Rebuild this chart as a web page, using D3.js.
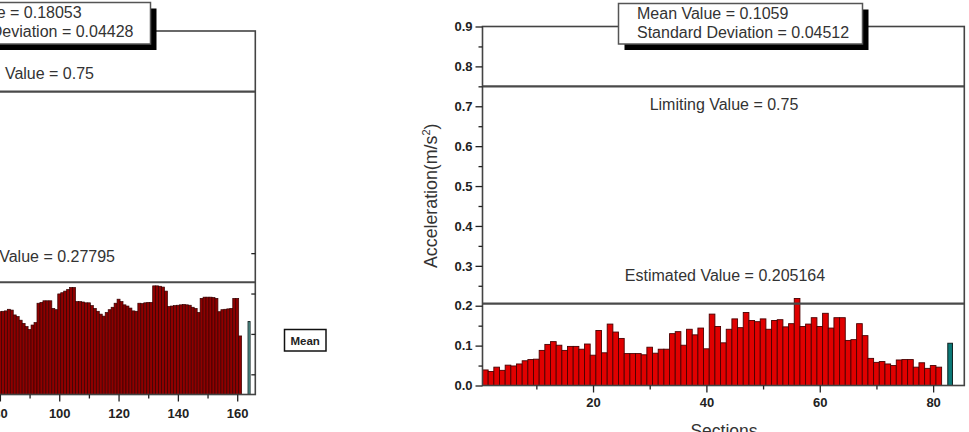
<!DOCTYPE html>
<html><head><meta charset="utf-8">
<script src="https://cdn.jsdelivr.net/npm/d3@7"></script>
<style>
html,body{margin:0;padding:0;background:#fff;overflow:hidden}
svg{display:block}
text{font-family:"Liberation Sans",Arial,Helvetica,sans-serif}
</style></head><body>
<svg id="chart" width="969" height="432"></svg>
<script>
// ---------------- DATA ----------------
// Left chart (only the visible sections 80..161 are read from the picture)
const leftFirstSection = 80;
const leftValues = [
  0.205,0.206,0.207,0.211,0.209,0.197,0.193,0.184,0.176,0.168,
  0.161,0.172,0.178,0.226,0.228,0.232,0.232,0.232,0.213,0.210,
  0.249,0.252,0.256,0.260,0.265,0.265,0.230,0.230,0.229,0.227,
  0.227,0.220,0.213,0.206,0.199,0.194,0.203,0.210,0.216,0.226,
  0.236,0.230,0.222,0.219,0.214,0.207,0.206,0.226,0.225,0.227,
  0.228,0.228,0.269,0.269,0.268,0.266,0.256,0.218,0.219,0.220,
  0.221,0.222,0.223,0.222,0.221,0.216,0.213,0.203,0.238,0.241,
  0.241,0.241,0.240,0.238,0.205,0.210,0.211,0.212,0.213,0.238,
  0.238,0.145
];
const leftMeanSection = 164;
const leftMean = 0.18053;
const leftStd = 0.04428;
const leftLimit = 0.75;
const leftEstimated = 0.27795;

// Right chart: sections 1..81
const rightFirstSection = 1;
const rightValues = [
  0.039,0.035,0.046,0.038,0.051,0.049,0.054,0.062,0.065,0.066,
  0.088,0.103,0.110,0.101,0.088,0.098,0.098,0.091,0.104,0.076,
  0.138,0.082,0.154,0.134,0.118,0.080,0.080,0.080,0.077,0.096,
  0.081,0.091,0.091,0.130,0.135,0.101,0.141,0.127,0.144,0.092,
  0.179,0.148,0.107,0.141,0.167,0.145,0.183,0.163,0.160,0.167,
  0.141,0.163,0.165,0.147,0.155,0.218,0.148,0.154,0.170,0.148,
  0.181,0.144,0.170,0.170,0.113,0.115,0.155,0.125,0.068,0.058,
  0.060,0.054,0.050,0.064,0.065,0.065,0.046,0.057,0.043,0.050,
  0.046
];
const rightMeanSection = 83;
const rightMean = 0.1059;
const rightStd = 0.04512;
const rightLimit = 0.75;
const rightEstimated = 0.205164;

const yMajorTicks = [0,0.1,0.2,0.3,0.4,0.5,0.6,0.7,0.8,0.9];
const yMinorTicks = [0.05,0.15,0.25,0.35,0.45,0.55,0.65,0.75,0.85];
const leftInnerRightTicks = [0.05,0.15,0.25,0.35];
const leftXMajor = [80,100,120,140,160];
const leftXMinor = [90,110,130,150];
const rightXMajor = [20,40,60,80];
const rightXMinor = [10,30,50,70];

const yLabel = "Acceleration(m/s";
const xLabel = "Sections";
const meanLegend = "Mean";

// ---------------- DRAW ----------------
const svg = d3.select("#chart");
const FONT = '"Liberation Sans",Arial,Helvetica,sans-serif';
const ANN = 16;

function panel(cfg) {
  const g = svg.append("g");
  const x = d3.scaleLinear().domain(cfg.xDomain).range(cfg.xRange);
  const y = d3.scaleLinear().domain([0, 0.9]).range(cfg.yRange);
  const data = cfg.values.map((v, i) => ({s: cfg.first + i, v}));

  g.selectAll("rect.bar").data(data).join("rect")
    .attr("class", "bar")
    .attr("x", d => x(d.s - 0.5))
    .attr("width", d => x(d.s + 0.5) - x(d.s - 0.5))
    .attr("y", d => y(d.v))
    .attr("height", d => y(0) - y(d.v))
    .attr("fill", cfg.barFill)
    .attr("stroke", cfg.barStroke)
    .attr("stroke-width", cfg.barStrokeW);

  g.append("rect")
    .attr("x", x(cfg.meanSection - 0.5) + 0.5)
    .attr("width", x(cfg.meanSection + 0.5) - x(cfg.meanSection - 0.5) - 1)
    .attr("y", y(cfg.mean))
    .attr("height", y(0) - y(cfg.mean))
    .attr("fill", cfg.meanFill)
    .attr("stroke", "#102020")
    .attr("stroke-width", 1);

  [cfg.limit, cfg.estimated].forEach(v => {
    g.append("line")
      .attr("x1", cfg.xRange[0]).attr("x2", cfg.xRange[1])
      .attr("y1", y(v)).attr("y2", y(v))
      .attr("stroke", "#4a4a4a").attr("stroke-width", 2.2);
  });

  g.append("rect")
    .attr("x", cfg.xRange[0]).attr("y", cfg.yRange[1])
    .attr("width", cfg.xRange[1] - cfg.xRange[0])
    .attr("height", cfg.yRange[0] - cfg.yRange[1])
    .attr("fill", "none").attr("stroke", "#444").attr("stroke-width", 1.6);

  const styleAxis = sel => {
    sel.select(".domain").remove();
    sel.selectAll(".tick line").attr("stroke", "#222").attr("stroke-width", 1.3);
    sel.selectAll(".tick text").attr("font-family", FONT).attr("font-weight", "bold")
      .attr("font-size", 13).attr("fill", "#222");
  };
  if (cfg.drawYAxis) {
    g.append("g").attr("transform", `translate(${cfg.xRange[0]},0)`)
      .call(d3.axisLeft(y).tickValues(yMajorTicks).tickFormat(d3.format(".1f")).tickSize(7).tickPadding(3))
      .call(styleAxis);
    g.append("g").attr("transform", `translate(${cfg.xRange[0]},0)`)
      .call(d3.axisLeft(y).tickValues(yMinorTicks).tickFormat("").tickSize(4))
      .call(styleAxis);
  }
  g.append("g").attr("transform", `translate(0,${cfg.yRange[0]})`)
    .call(d3.axisBottom(x).tickValues(cfg.xMajor).tickFormat(d3.format("d")).tickSize(7).tickPadding(cfg.xPad))
    .call(styleAxis);
  g.append("g").attr("transform", `translate(0,${cfg.yRange[0]})`)
    .call(d3.axisBottom(x).tickValues(cfg.xMinor).tickFormat("").tickSize(4))
    .call(styleAxis);
  if (cfg.rightTicks) {
    g.append("g").attr("transform", `translate(${cfg.xRange[1]},0)`)
      .call(d3.axisRight(y).tickValues(cfg.rightTicks).tickFormat("").tickSize(-4))
      .call(styleAxis);
  }

  g.append("text").attr("x", cfg.limLabel.x).attr("y", cfg.limLabel.y)
    .attr("text-anchor", cfg.limLabel.anchor).attr("font-size", ANN).attr("fill", "#333")
    .text(`Limiting Value = ${cfg.limit}`);
  g.append("text").attr("x", cfg.estLabel.x).attr("y", cfg.estLabel.y)
    .attr("text-anchor", cfg.estLabel.anchor).attr("font-size", ANN).attr("fill", "#333")
    .text(`Estimated Value = ${cfg.estimated}`);

  const b = cfg.box;
  g.append("rect").attr("x", b.x + 6).attr("y", b.y + 6).attr("width", b.w).attr("height", b.h).attr("fill", "#000");
  g.append("rect").attr("x", b.x).attr("y", b.y).attr("width", b.w).attr("height", b.h)
    .attr("fill", "#fff").attr("stroke", "#555").attr("stroke-width", 1.5);
  const t2 = g.append("text").attr("y", b.y + 34.5).attr("font-size", ANN).attr("fill", "#333")
    .text(`Standard Deviation = ${cfg.std}`);
  let startX = b.tx;
  if (b.endX !== undefined) {
    startX = b.endX - t2.node().getComputedTextLength();
  }
  t2.attr("x", startX);
  g.append("text").attr("x", startX).attr("y", b.y + 15.5).attr("font-size", ANN).attr("fill", "#333")
    .text(`Mean Value = ${cfg.mean}`);
  return {g, x, y};
}

// left panel (mostly cut off on the left side)
panel({
  values: leftValues, first: leftFirstSection,
  xDomain: [0.5, 166.1], xRange: [-235.9, 255.3], yRange: [394.5, 31],
  xMajor: leftXMajor, xMinor: leftXMinor, xPad: 7,
  barFill: "#8e0000", barStroke: "#360000", barStrokeW: 0.7,
  meanSection: leftMeanSection, mean: leftMean, std: leftStd, meanFill: "#6cc3bd",
  limit: leftLimit, estimated: leftEstimated,
  limLabel: {x: 94, y: 79, anchor: "end"},
  estLabel: {x: 115, y: 262, anchor: "end"},
  box: {x: -93.5, y: 2.5, w: 244, h: 41.5, endX: 133.5},
  rightTicks: leftInnerRightTicks,
  drawYAxis: false
});
svg.append("rect").attr("x", 284.5).attr("y", 329.5).attr("width", 41.5).attr("height", 21.5)
  .attr("fill", "#fff").attr("stroke", "#111").attr("stroke-width", 1.5);
svg.append("text").attr("x", 305.2).attr("y", 344.5).attr("text-anchor", "middle")
  .attr("font-size", 11.5).attr("font-weight", "bold").attr("fill", "#222").text(meanLegend);

// right panel
panel({
  values: rightValues, first: rightFirstSection,
  xDomain: [0.5, 85.5], xRange: [482.5, 964.3], yRange: [385.5, 26.5],
  xMajor: rightXMajor, xMinor: rightXMinor, xPad: 5,
  barFill: "#e00000", barStroke: "#4a0000", barStrokeW: 0.9,
  meanSection: rightMeanSection, mean: rightMean, std: rightStd, meanFill: "#0b7a78",
  limit: rightLimit, estimated: rightEstimated,
  limLabel: {x: 724, y: 110, anchor: "middle"},
  estLabel: {x: 725, y: 281, anchor: "middle"},
  box: {x: 618.5, y: 3.5, w: 244, h: 40.5, tx: 637},
  rightTicks: null,
  drawYAxis: true
});

const yl = svg.append("text")
  .attr("transform", "translate(437,268) rotate(-90)")
  .attr("text-anchor", "start").attr("font-size", 17.8).attr("fill", "#333");
yl.append("tspan").text(yLabel);
yl.append("tspan").attr("font-size", 11).attr("dy", -7).text("2");
yl.append("tspan").attr("dy", 7).text(")");

svg.append("text").attr("x", 724).attr("y", 437).attr("text-anchor", "middle")
  .attr("font-size", 17.5).attr("fill", "#333").text(xLabel);
</script>
</body></html>
